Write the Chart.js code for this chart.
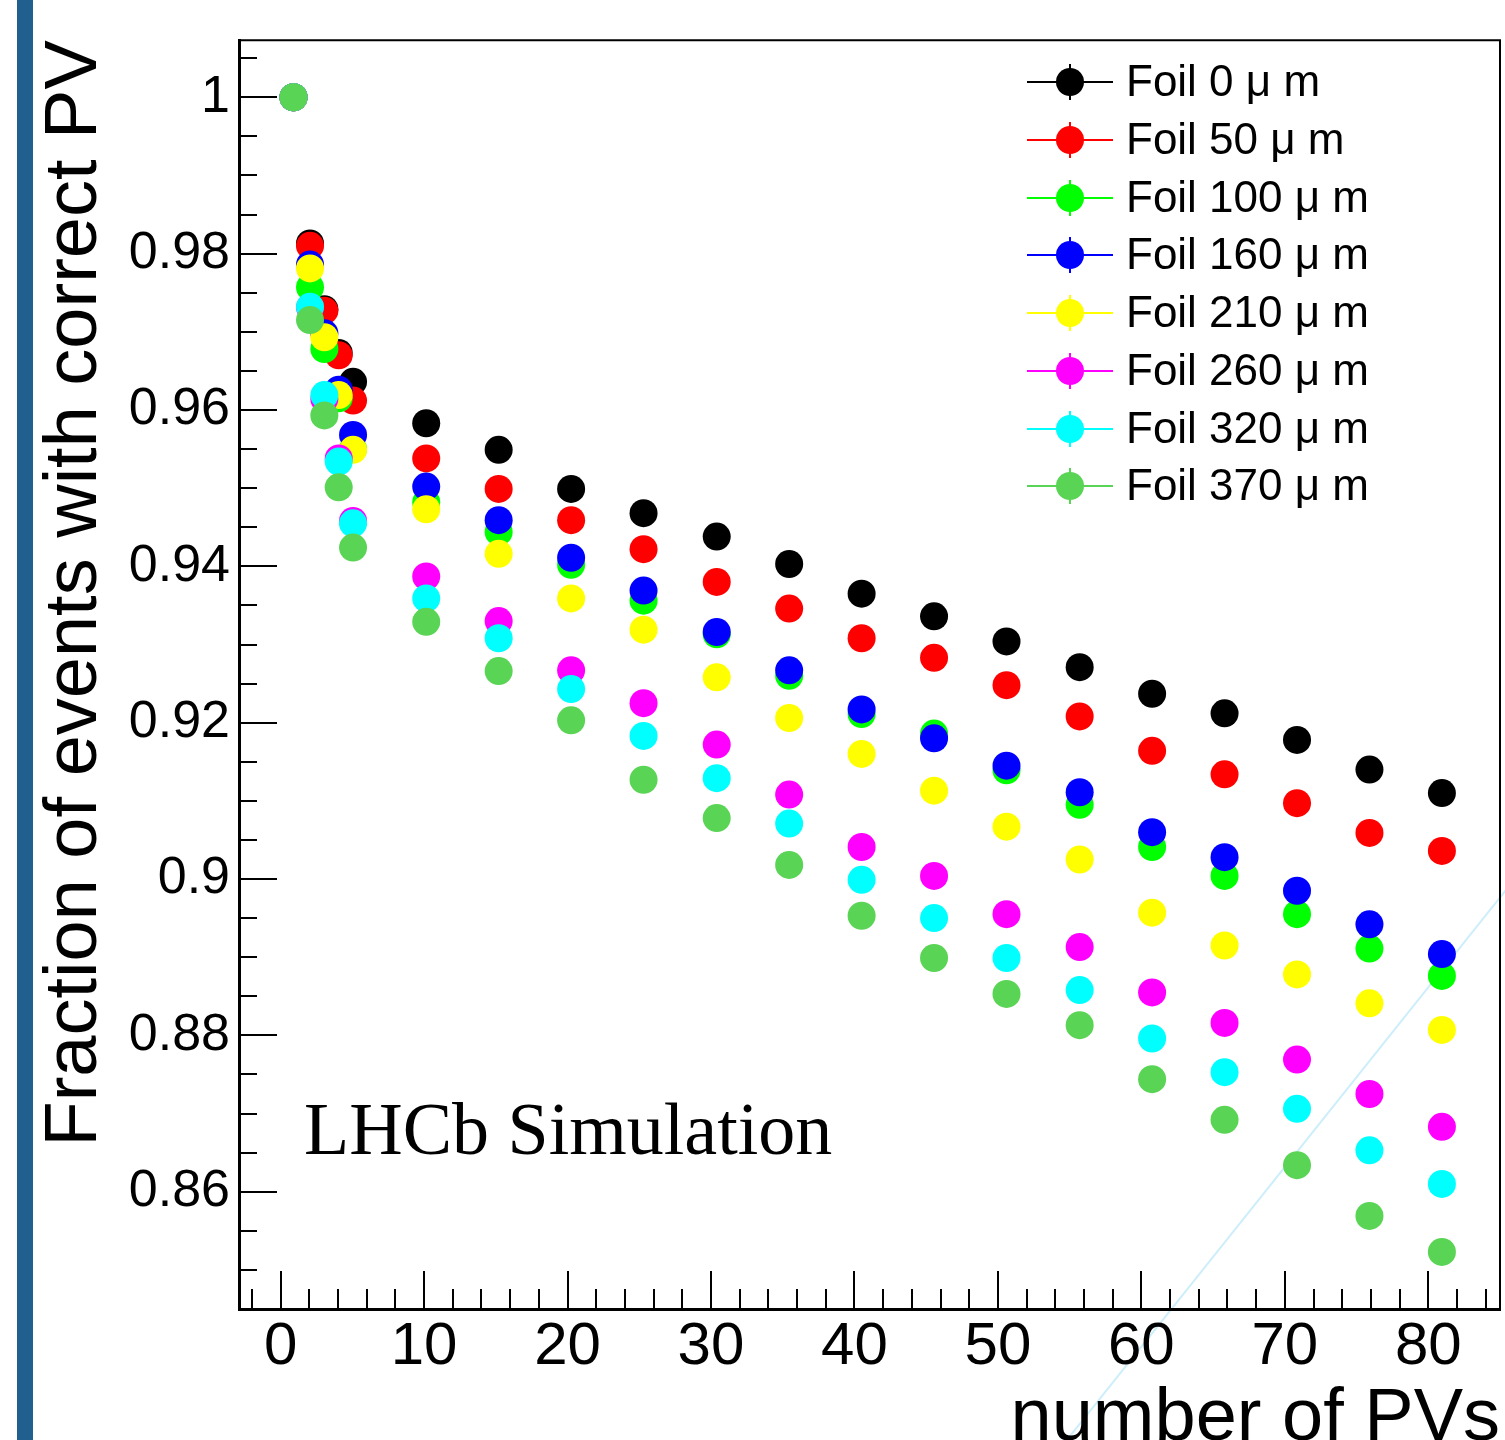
<!DOCTYPE html>
<html>
<head>
<meta charset="utf-8">
<title>Fraction of events with correct PV</title>
<script src="https://cdn.jsdelivr.net/npm/chart.js@4.4.1/dist/chart.umd.min.js"></script>
<style>
  html, body { margin: 0; padding: 0; background: #fff; width: 1505px; height: 1440px; overflow: hidden; }
  #wrap { position: absolute; left: 0; top: 0; width: 1505px; height: 1480px; }
  #chart { position: absolute; left: 0; top: 0; }
  .side-bar { position: absolute; left: 17px; top: 0; width: 16px; height: 1440px; background: #215f8e; }
  .streak { position: absolute; left: 1066px; top: 1440px; width: 706px; height: 1.5px; background: #cdeefa;
            transform-origin: 0 50%; transform: rotate(-51.4deg); }
  .stamp { position: absolute; left: 304px; top: 1092px; font-family: "Liberation Serif", "Times New Roman", serif;
           font-size: 74px; line-height: 74px; white-space: nowrap; color: #000; }
  #legend { position: absolute; left: 1027px; top: 0; width: 470px; }
  .row { position: absolute; left: 0; width: 470px; height: 44px; }
  .row .ln { position: absolute; left: 0; top: 22px; width: 86px; height: 2px; margin-top: -1px; }
  .row .err { position: absolute; left: 42px; top: 4px; width: 2px; height: 36px; }
  .row .dot { position: absolute; left: 29px; top: 8px; width: 28px; height: 28px; border-radius: 50%; }
  .row .txt { position: absolute; left: 99px; top: 0; font-family: "Liberation Sans", Arial, sans-serif;
              font-size: 44px; line-height: 44px; white-space: nowrap; color: #000; }
</style>
</head>
<body>
<div class="side-bar"></div>
<div class="streak"></div>
<div id="wrap">
  <canvas id="chart" width="1505" height="1480"></canvas>
</div>
<div class="stamp">LHCb Simulation</div>
<div id="legend"></div>
<script>
// --- ДАНІ ---
const nPVs = [0.9, 2.05, 3.05, 4.05, 5.05, 10.15, 15.2, 20.25, 25.3, 30.4, 35.45, 40.5, 45.55, 50.6, 55.7, 60.75, 65.8, 70.85, 75.9, 80.95];

const foil0   = [1.0, 0.9813, 0.9729, 0.9673, 0.9636, 0.9583, 0.9549, 0.9499, 0.9468, 0.9438, 0.9403, 0.9365, 0.9336, 0.9304, 0.9271, 0.9237, 0.9212, 0.9178, 0.9140, 0.9110];
const foil50  = [1.0, 0.9810, 0.9727, 0.9670, 0.9612, 0.9538, 0.9499, 0.9459, 0.9422, 0.9380, 0.9346, 0.9308, 0.9283, 0.9248, 0.9208, 0.9164, 0.9134, 0.9097, 0.9059, 0.9036];
const foil100 = [1.0, 0.9757, 0.9678, 0.9615, 0.9550, 0.9482, 0.9444, 0.9402, 0.9356, 0.9313, 0.9260, 0.9211, 0.9186, 0.9139, 0.9095, 0.9041, 0.9004, 0.8955, 0.8911, 0.8876];
const foil160 = [1.0, 0.9786, 0.9698, 0.9626, 0.9568, 0.9502, 0.9459, 0.9411, 0.9369, 0.9316, 0.9267, 0.9217, 0.9180, 0.9145, 0.9111, 0.9060, 0.9028, 0.8985, 0.8942, 0.8904];
const foil210 = [1.0, 0.9781, 0.9693, 0.9619, 0.9549, 0.9473, 0.9416, 0.9359, 0.9319, 0.9258, 0.9206, 0.9160, 0.9113, 0.9067, 0.9025, 0.8957, 0.8915, 0.8878, 0.8841, 0.8807];
const foil260 = [1.0, 0.9731, 0.9614, 0.9538, 0.9458, 0.9387, 0.9330, 0.9267, 0.9225, 0.9172, 0.9108, 0.9041, 0.9004, 0.8955, 0.8913, 0.8855, 0.8816, 0.8769, 0.8725, 0.8683];
const foil320 = [1.0, 0.9732, 0.9619, 0.9534, 0.9455, 0.9359, 0.9308, 0.9243, 0.9183, 0.9129, 0.9071, 0.8999, 0.8950, 0.8899, 0.8858, 0.8796, 0.8753, 0.8706, 0.8653, 0.8610];
const foil370 = [1.0, 0.9715, 0.9593, 0.9501, 0.9424, 0.9329, 0.9266, 0.9203, 0.9127, 0.9078, 0.9018, 0.8953, 0.8899, 0.8853, 0.8813, 0.8744, 0.8692, 0.8634, 0.8569, 0.8523];

const seriesNames  = ['Foil 0 μ m', 'Foil 50 μ m', 'Foil 100 μ m', 'Foil 160 μ m', 'Foil 210 μ m', 'Foil 260 μ m', 'Foil 320 μ m', 'Foil 370 μ m'];
const seriesValues = [foil0, foil50, foil100, foil160, foil210, foil260, foil320, foil370];
const seriesColors = ['#000000', '#ff0000', '#00ff00', '#0000ff', '#ffff00', '#ff00ff', '#00ffff', '#59d454'];

const xRange = [-2.9, 85];
const yRange = [0.845, 1.0073];

// --- ДОПОМІЖНІ ---
const isMajorY = (v) => Math.abs(v * 50 - Math.round(v * 50)) < 1e-6;
const isMajorX = (v) => Math.abs(v % 10) < 1e-9;
const SANS = '"Liberation Sans", Arial, sans-serif';

// Тики всередину рамки, як у ROOT, плюс тонка рамка зверху і справа
const rootFrame = {
    id: 'rootFrame',
    beforeDatasetsDraw(chart) {
        const { ctx, chartArea: a, scales: { x, y } } = chart;
        ctx.save();
        ctx.strokeStyle = '#000';
        ctx.lineWidth = 2;
        ctx.beginPath();
        x.ticks.forEach((t) => {
            const px = Math.round(x.getPixelForValue(t.value));
            if (px <= a.left + 1 || px >= a.right - 1) return;
            ctx.moveTo(px, a.bottom);
            ctx.lineTo(px, a.bottom - (isMajorX(t.value) ? 38 : 20));
        });
        y.ticks.forEach((t) => {
            const py = Math.round(y.getPixelForValue(t.value));
            if (py <= a.top + 1 || py >= a.bottom - 1) return;
            ctx.moveTo(a.left, py);
            ctx.lineTo(a.left + (isMajorY(t.value) ? 38 : 18), py);
        });
        ctx.stroke();
        ctx.beginPath();
        ctx.moveTo(a.left, a.top);
        ctx.lineTo(a.right, a.top);
        ctx.lineTo(a.right, a.bottom);
        ctx.stroke();
        ctx.restore();
    }
};

const datasets = seriesNames.map((name, i) => ({
    label: name,
    data: nPVs.map((x, j) => ({ x, y: seriesValues[i][j] })),
    backgroundColor: seriesColors[i],
    borderWidth: 0,
    pointRadius: 14,
    pointHoverRadius: 14,
    showLine: false,
    order: seriesNames.length - 1 - i   // останній набір малюється зверху
}));

new Chart(document.getElementById('chart'), {
    type: 'scatter',
    data: { datasets },
    options: {
        responsive: false,
        devicePixelRatio: 1,
        animation: false,
        events: [],
        layout: { autoPadding: false, padding: { left: 0, right: 5, top: 38, bottom: 0 } },
        plugins: { legend: { display: false }, tooltip: { enabled: false } },
        scales: {
            x: {
                type: 'linear',
                min: xRange[0],
                max: xRange[1],
                afterFit: (s) => { s.height = 171; },
                grid: { display: false, drawTicks: false },
                border: { display: true, color: '#000', width: 3 },
                ticks: {
                    stepSize: 2,
                    includeBounds: false,
                    autoSkip: false,
                    maxRotation: 0,
                    padding: 2,
                    color: '#000',
                    font: { family: SANS, size: 60 },
                    callback: (v) => (isMajorX(v) ? String(v) : '')
                },
                title: {
                    display: true,
                    text: 'number of PVs',
                    align: 'end',
                    color: '#000',
                    font: { family: SANS, size: 74, lineHeight: 1 },
                    padding: { top: 0, bottom: 23 }
                }
            },
            y: {
                type: 'linear',
                min: yRange[0],
                max: yRange[1],
                afterFit: (s) => { s.width = 239; },
                grid: { display: false, drawTicks: false },
                border: { display: true, color: '#000', width: 3 },
                ticks: {
                    stepSize: 0.005,
                    includeBounds: false,
                    autoSkip: false,
                    padding: 9,
                    color: '#000',
                    font: { family: SANS, size: 52 },
                    callback: (v) => (isMajorY(v) ? String(parseFloat(v.toFixed(2))) : '')
                },
                title: {
                    display: true,
                    text: 'Fraction of events with correct PV',
                    align: 'end',
                    color: '#000',
                    font: { family: SANS, size: 74, lineHeight: 1 },
                    padding: { top: 39, bottom: 0 }
                }
            }
        }
    },
    plugins: [rootFrame]
});

// --- ЛЕГЕНДА (як TLegend у ROOT, без рамки) ---
const legend = document.getElementById('legend');
seriesNames.forEach((name, i) => {
    const row = document.createElement('div');
    row.className = 'row';
    row.style.top = `${82.3 + i * 57.7 - 22}px`;
    const c = seriesColors[i];
    row.innerHTML =
        `<div class="ln" style="background:${c}"></div>` +
        `<div class="err" style="background:${c}"></div>` +
        `<div class="dot" style="background:${c}"></div>` +
        `<div class="txt" style="top:-1px">${name}</div>`;
    legend.appendChild(row);
});
</script>
</body>
</html>
